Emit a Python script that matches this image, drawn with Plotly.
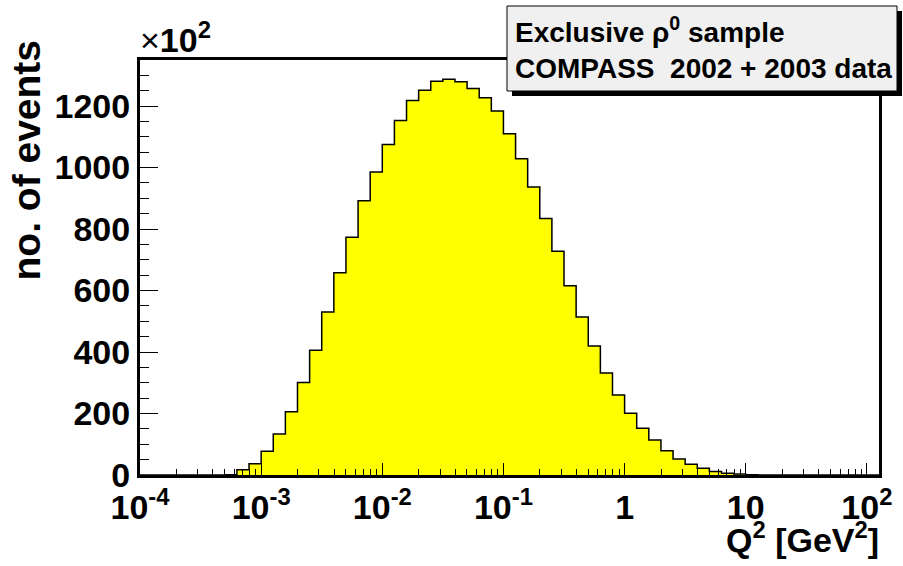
import numpy as np
import plotly.graph_objects as go

# Q^2 histogram: 10 bins per decade from 1e-4 to 10^2.1 (log10 bin edges)
log_lo = -4.0
bins_per_decade = 10
n_bins = 61

# entries per bin, in units of 10^2 events
counts = [
    0, 0, 0, 0, 0, 0, 0, 1, 17, 37,
    77, 133, 206, 301, 406, 530, 658, 773, 892, 986,
    1075, 1153, 1218, 1252, 1281, 1287, 1279, 1257, 1227, 1184,
    1110, 1029, 937, 834, 728, 616, 514, 420, 332, 260,
    201, 152, 114, 79, 52, 35, 22, 11, 6, 3,
    1, 0, 0, 0, 0, 0, 0, 0, 0, 0,
    0,
]

x_tick_vals = [1e-4, 1e-3, 1e-2, 1e-1, 1, 10, 100]
x_tick_text = ["10<sup>-4</sup>", "10<sup>-3</sup>", "10<sup>-2</sup>",
               "10<sup>-1</sup>", "1", "10", "10<sup>2</sup>"]

edges = 10 ** (log_lo + np.arange(n_bins + 1) / bins_per_decade)
step_y = counts + [counts[-1]]

FONT = "Liberation Sans, Arial, Helvetica, sans-serif"
bold = dict(family=FONT, size=34, color="black", weight="bold")

fig = go.Figure()
fig.add_trace(go.Scatter(
    x=edges, y=step_y,
    mode="lines", line=dict(shape="hv", color="black", width=1.5),
    fill="tozeroy", fillcolor="#ffff00",
    hoverinfo="skip", showlegend=False,
))

L, R, T, B = 140, 24, 60, 91
W, H = 903, 566
pw, ph = W - L - R, H - T - B


def px(xp):
    return (xp - L) / pw


def py(yp):
    return (H - B - yp) / ph


fig.update_layout(
    width=W, height=H,
    margin=dict(l=L, r=R, t=T, b=B, pad=0),
    paper_bgcolor="white", plot_bgcolor="white",
    showlegend=False,
    xaxis=dict(
        type="log", range=[log_lo, log_lo + n_bins / bins_per_decade],
        tickvals=x_tick_vals, ticktext=x_tick_text,
        ticks="inside", ticklen=12, tickwidth=1.2, tickcolor="black",
        minor=dict(ticks="inside", ticklen=6, tickwidth=1.2, tickcolor="black",
                   dtick="D1", showgrid=False),
        showgrid=False, zeroline=False,
        showline=True, linewidth=3, linecolor="black", mirror=True,
        tickfont=bold,
    ),
    yaxis=dict(
        range=[0, 1350], dtick=200, tick0=0,
        ticks="inside", ticklen=18, tickwidth=1.2, tickcolor="black",
        minor=dict(ticks="inside", ticklen=9, tickwidth=1.2, tickcolor="black",
                   dtick=50, showgrid=False),
        showgrid=False, zeroline=False,
        showline=True, linewidth=3, linecolor="black", mirror=True,
        tickfont=bold,
    ),
)

# statistics-style box with drop shadow
fig.add_shape(type="rect", xref="paper", yref="paper", layer="above",
              x0=px(512), x1=px(902), y0=py(96), y1=py(11),
              fillcolor="black", line=dict(width=0))
fig.add_shape(type="rect", xref="paper", yref="paper", layer="above",
              x0=px(507), x1=px(897), y0=py(91), y1=py(6),
              fillcolor="#f0f0f0", line=dict(color="black", width=1))

box_font = dict(family=FONT, size=28, color="black", weight="bold")
fig.add_annotation(xref="paper", yref="paper", x=px(513), y=py(30),
                   xanchor="left", yanchor="middle", showarrow=False,
                   text="Exclusive ρ<sup>0</sup> sample", font=box_font)
fig.add_annotation(xref="paper", yref="paper", x=px(513), y=py(68),
                   xanchor="left", yanchor="middle", showarrow=False,
                   text="COMPASS\u00a0\u00a02002 + 2003 data", font=box_font)

# axis titles and the y-scale multiplier
title_font = dict(family=FONT, size=39, color="black", weight="bold")
fig.add_annotation(xref="paper", yref="paper", x=px(26), y=py(38),
                   xanchor="center", yanchor="top", showarrow=False,
                   textangle=-90, text="no. of events", font=title_font)
fig.add_annotation(xref="paper", yref="paper", x=px(881), y=py(537),
                   xanchor="right", yanchor="middle", showarrow=False,
                   text="Q<sup>2</sup> [GeV<sup>2</sup>]", font=bold)
fig.add_annotation(xref="paper", yref="paper", x=px(138), y=py(38),
                   xanchor="left", yanchor="middle", showarrow=False,
                   text="<span style='font-weight:normal'>×</span>10<sup>2</sup>",
                   font=bold)

fig.write_html("out.html")
